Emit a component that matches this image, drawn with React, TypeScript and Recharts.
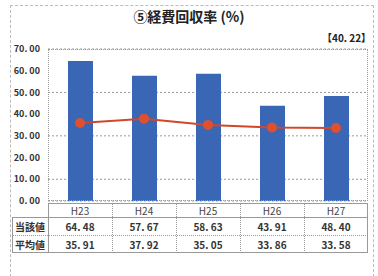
import { ComposedChart, Bar, Line, XAxis, YAxis, CartesianGrid } from 'recharts';

const years = ['H23', 'H24', 'H25', 'H26', 'H27'];
const currentValues = [64.48, 57.67, 58.63, 43.91, 48.4];
const averageValues = [35.91, 37.92, 35.05, 33.86, 33.58];
const yTicks = [0, 10, 20, 30, 40, 50, 60, 70];

// the original prints numbers as "64. 48"
const fmt = (v: number) => v.toFixed(2).replace('.', '.\u00a0');

const font = '"Noto Sans CJK JP", "DejaVu Sans", sans-serif';

export default function App() {
  const chartData = years.map((y, i) => ({
    year: y,
    current: currentValues[i],
    average: averageValues[i],
  }));

  const plotLeft = 48;
  const plotRight = 368;
  const colW = (plotRight - plotLeft) / years.length;

  const cell = (extra: React.CSSProperties = {}): React.CSSProperties => ({
    position: 'absolute',
    textAlign: 'center',
    fontFamily: font,
    fontWeight: 'bold',
    color: '#333',
    boxSizing: 'border-box',
    whiteSpace: 'nowrap',
    ...extra,
  });

  return (
    <div style={{ position: 'absolute', left: 0, top: 0, width: 378, height: 276, background: '#fff', overflow: 'hidden' }}>
      <div style={{ position: 'absolute', left: 10, top: 5, width: 362, height: 300, border: '1px dashed #bbb' }} />
      <div style={cell({ left: 0, width: 378, top: 6, fontSize: 14, color: '#222' })}>⑤経費回収率 (%)</div>
      <div style={cell({ left: 322, top: 30, fontSize: 10, color: '#222' })}>【40. 22】</div>

      <ComposedChart
        width={378}
        height={276}
        data={chartData}
        margin={{ top: 49, right: 10, bottom: 75, left: 4 }}
        style={{ position: 'absolute', left: 0, top: 0 }}
      >
        <CartesianGrid vertical={false} stroke="#999" strokeDasharray="2 2" />
        <XAxis dataKey="year" hide />
        <YAxis
          width={44}
          domain={[0, 70]}
          ticks={yTicks}
          tickFormatter={fmt}
          axisLine={false}
          tickLine={false}
          tick={{ fontSize: 9, fill: '#333', fontFamily: font, fontWeight: 'bold', width: 60 }}
        />
        <Bar dataKey="current" fill="#3a66b6" barSize={25} isAnimationActive={false} />
        <Line
          dataKey="average"
          type="linear"
          stroke="#d2462a"
          strokeWidth={2}
          dot={{ r: 4, fill: '#e0502f', stroke: '#e0502f' }}
          isAnimationActive={false}
        />
      </ComposedChart>

      <div style={{ position: 'absolute', left: plotLeft, top: 49, width: plotRight - plotLeft, height: 152, border: '1px dotted #999', boxSizing: 'border-box' }} />

      {/* data table */}
      <div style={{ position: 'absolute', left: plotLeft, top: 203, width: plotRight - plotLeft, height: 50, border: '1px solid #999', boxSizing: 'border-box' }} />
      <div style={{ position: 'absolute', left: 12, top: 217, width: plotRight - 12, height: 36, border: '1px solid #999', boxSizing: 'border-box' }} />
      <div style={{ position: 'absolute', left: 12, top: 235, width: plotRight - 12, height: 0, borderTop: '1px dotted #999' }} />
      <div style={{ position: 'absolute', left: plotLeft, top: 217, width: 0, height: 36, borderLeft: '1px solid #999' }} />
      {years.map((y, i) => (
        <div key={y}>
          {i > 0 && (
            <div style={{ position: 'absolute', left: plotLeft + colW * i, top: 203, width: 0, height: 50, borderLeft: '1px dotted #999' }} />
          )}
          <div style={cell({ left: plotLeft + colW * i, width: colW, top: 203, fontSize: 10, fontWeight: 'normal', color: '#444' })}>{y}</div>
          <div style={cell({ left: plotLeft + colW * i, width: colW, top: 219, fontSize: 10 })}>{fmt(currentValues[i])}</div>
          <div style={cell({ left: plotLeft + colW * i, width: colW, top: 237, fontSize: 10 })}>{fmt(averageValues[i])}</div>
        </div>
      ))}
      <div style={cell({ left: 12, width: plotLeft - 12, top: 219, fontSize: 10 })}>当該値</div>
      <div style={cell({ left: 12, width: plotLeft - 12, top: 237, fontSize: 10 })}>平均値</div>
    </div>
  );
}
